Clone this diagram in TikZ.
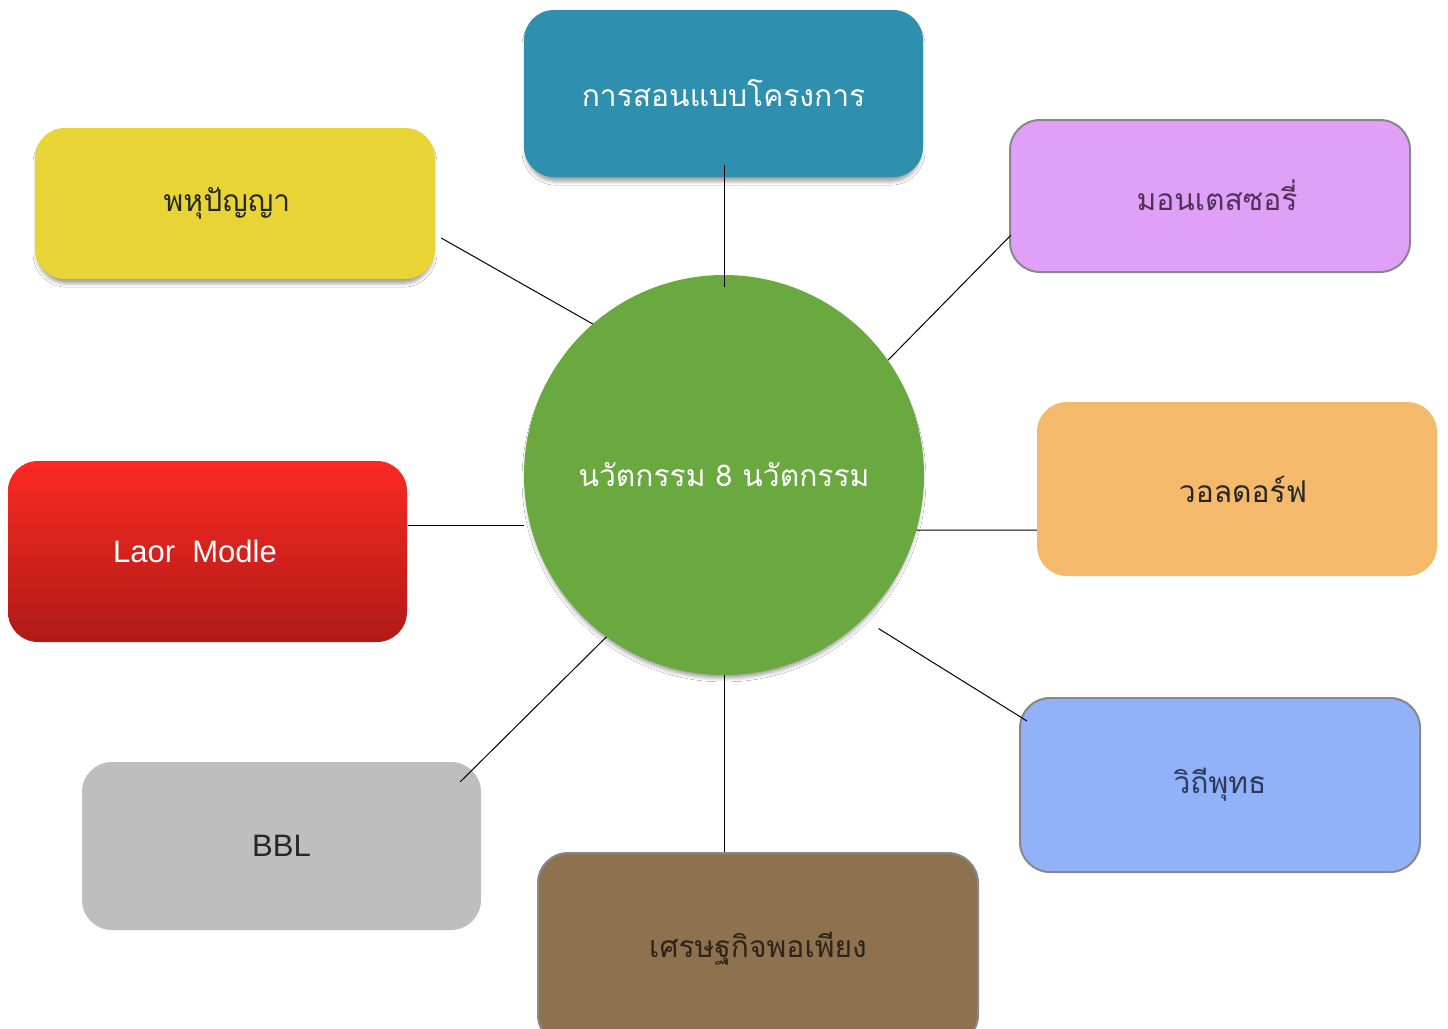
\documentclass[tikz,border=0pt]{standalone}
\usepackage{fontspec}
\setmainfont{Liberation Sans}
\newfontfamily\thai[Script=Thai]{Loma}
\usetikzlibrary{calc,shadows.blur}
\definecolor{cteal}{HTML}{2E8FAE}
\definecolor{cyellow}{HTML}{E8D535}
\definecolor{cpurple}{HTML}{E0A0F8}
\definecolor{corange}{HTML}{F4B96A}
\definecolor{credtop}{HTML}{FA2A22}
\definecolor{credbot}{HTML}{B01A17}
\definecolor{cblue}{HTML}{91B1F9}
\definecolor{cgray}{HTML}{BEBEBE}
\definecolor{cbrown}{HTML}{8E7250}
\definecolor{cgreen}{HTML}{6AA840}
\definecolor{cborder}{HTML}{888888}
\tikzset{
  box/.style={rectangle, rounded corners=30pt, inner sep=0pt, font=\thai\fontsize{30}{36}\selectfont},
  bordered/.style={draw=cborder, line width=2pt},
  shad/.style={blur shadow={shadow xshift=0pt, shadow yshift=-5pt, shadow scale=0.99, shadow blur radius=4pt, shadow opacity=40}},
  link/.style={draw=black, line width=1pt}
}
\begin{document}
\begin{tikzpicture}[x=1pt,y=-1pt]
\useasboundingbox (0,0) rectangle (1448,1028);
\fill[white] (0,0) rectangle (1448,1028);
\node[box, shad, fill=cteal, minimum width=399pt, minimum height=167pt, text=white] (teal) at (723.5,93.5) {การสอนแบบโครงการ};
\node[box, shad, fill=cyellow, minimum width=400pt, minimum height=151pt, text=black!85] (yellow) at (235,203.5) {\hspace*{-16pt}\raisebox{-4pt}{พหุปัญญา}};
\node[box, bordered, fill=cpurple, minimum width=400pt, minimum height=152pt, text={rgb,255:red,80;green,50;blue,85}] (purple) at (1210,196) {\hspace*{14pt}\raisebox{2pt}{มอนเตสซอรี่}};
\node[box, fill=corange, minimum width=400pt, minimum height=174pt, text=black!85] (orange) at (1237,489) {\hspace*{12pt}วอลดอร์ฟ};
\node[box, top color=credtop, bottom color=credbot, minimum width=399pt, minimum height=181pt, text=white, font=\fontsize{31}{36}\selectfont] (red) at (207.5,551.5) {\hspace*{-25pt}Laor\ \ Modle};
\node[box, bordered, fill=cblue, minimum width=400pt, minimum height=174pt, text={rgb,255:red,45;green,58;blue,90}] (blue) at (1220,785) {\raisebox{-2pt}{วิถีพุทธ}};
\node[box, fill=cgray, minimum width=399pt, minimum height=168pt, text=black!85, font=\fontsize{31}{36}\selectfont] (gray) at (281.5,846) {BBL};
\node[box, bordered, fill=cbrown, minimum width=440pt, minimum height=192pt, text={rgb,255:red,45;green,36;blue,25}] (brown) at (758,949) {\raisebox{5pt}{เศรษฐกิจพอเพียง}};
\node[circle, shad, fill=cgreen, minimum size=400pt, inner sep=0pt, text=white, font=\thai\fontsize{30}{36}\selectfont] (circ) at (724,475) {\raisebox{-2pt}{นวัตกรรม 8 นวัตกรรม}};
\draw[link] ([xshift=0.5pt,yshift=12pt]teal.south) -- ([yshift=-12pt]circ.north);
\draw[link] ([xshift=6pt,yshift=-34.5pt]yellow.east) -- (circ.131);
\draw[link] ([xshift=2pt,yshift=-39pt]purple.west) -- (circ.35);
\draw[link] ([xshift=1pt,yshift=26.5pt]red.east) -- ([yshift=-50pt]circ.west);
\draw[link] (circ.-16) -- ([yshift=-41pt]orange.west);
\draw[link] (circ.234) -- ([xshift=-21pt,yshift=-20pt]gray.north east);
\draw[link] ([xshift=13pt,yshift=-12pt]circ.-45) -- ([xshift=8pt,yshift=-24pt]blue.north west);
\draw[link] (circ.south) -- ([xshift=-34pt]brown.north);
\end{tikzpicture}
\end{document}
